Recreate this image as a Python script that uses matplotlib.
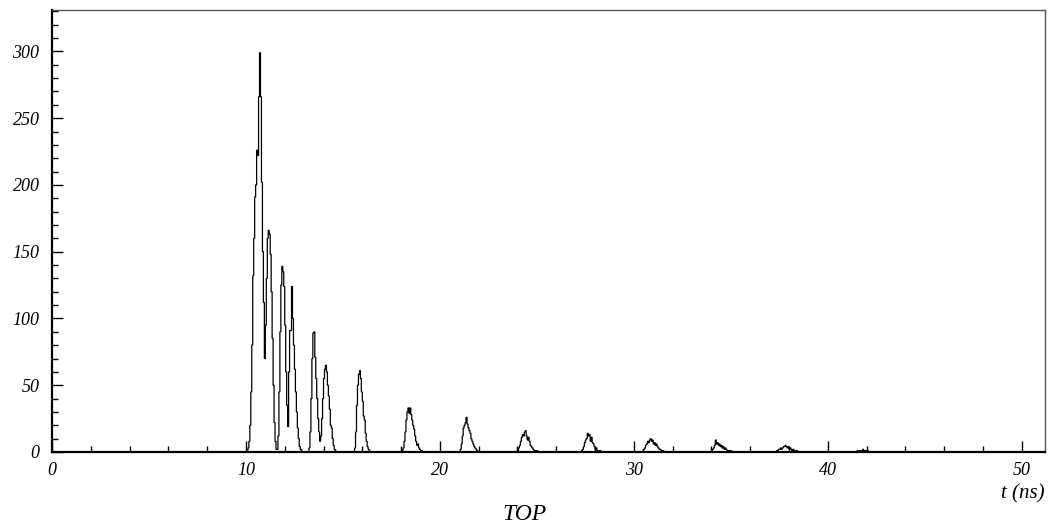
import numpy as np
import matplotlib
matplotlib.use("Agg")
import matplotlib.pyplot as plt
from matplotlib.ticker import MultipleLocator

plt.rcParams['font.family'] = ['Liberation Serif', 'DejaVu Serif']
plt.rcParams['font.style'] = 'italic'

# histogram: 1024 bins of 0.05 ns from 0 to 51.2 ns
bin_width = 0.05
n_bins = 1024

# each peak: (start time in ns, counts of consecutive bins)
peak_a = (10.10, [3, 8, 20, 45, 80, 132, 160, 191, 200, 226, 222, 266, 299, 266, 202,
                  150, 112, 70, 95, 130, 160, 166, 163, 148, 120, 85, 50, 22, 8, 2])
peak_c = (11.60, [2, 12, 45, 90, 125, 139, 135, 124, 95, 60, 35, 19, 60, 91, 91, 124,
                  100, 80, 62, 45, 30, 18, 10, 4, 2, 1])
peak_e = (13.25, [3, 15, 40, 70, 89, 90, 71, 55, 40, 25, 15, 8, 12, 25, 40, 55, 62, 65,
                  60, 50, 42, 32, 20, 18, 10, 5, 2, 1])
peak_g = (15.60, [3, 15, 35, 50, 58, 61, 55, 45, 38, 27, 24, 14, 8, 4, 2, 1])
peak_h = (18.05, [1, 3, 8, 15, 24, 30, 33, 29, 33, 28, 24, 20, 17, 12, 8, 5, 6, 3, 2, 1, 1])
peak_i = (21.05, [2, 6, 12, 18, 20, 22, 26, 21, 18, 16, 14, 10, 8, 6, 4, 3, 2, 1])
peak_j = (24.00, [1, 3, 5, 8, 11, 13, 12, 15, 16, 12, 9, 11, 8, 5, 4, 3, 2, 1, 1, 0, 1])
peak_k = (27.30, [1, 2, 4, 7, 9, 10, 14, 12, 13, 8, 11, 7, 6, 4, 2, 3, 1, 1, 0, 1])
peak_l = (30.45, [1, 2, 3, 5, 6, 8, 7, 9, 10, 8, 9, 6, 7, 5, 6, 4, 3, 2, 2, 1, 0, 1])
peak_m = (34.00, [1, 2, 3, 5, 9, 6, 7, 5, 6, 4, 5, 3, 4, 2, 3, 2, 1, 1, 1, 0, 1])
peak_n = (37.35, [1, 1, 2, 2, 3, 2, 3, 4, 4, 5, 4, 3, 4, 2, 3, 2, 1, 2, 1, 1, 0, 1])
peak_o = (41.50, [1, 0, 1, 1, 0, 1, 2, 1, 1, 0, 1, 1])

peaks = [peak_a, peak_c, peak_e, peak_g, peak_h, peak_i, peak_j,
         peak_k, peak_l, peak_m, peak_n, peak_o]

edges = np.arange(n_bins + 1) * bin_width
counts = np.zeros(n_bins)
for start, vals in peaks:
    i0 = int(round(start / bin_width))
    counts[i0:i0 + len(vals)] = vals

fig = plt.figure(figsize=(10.49, 5.27), dpi=100)
ax = fig.add_axes([52 / 1049, 75 / 527, 993 / 1049, 442 / 527])

ax.stairs(counts, edges, color='black', linewidth=0.9)

ax.set_xlim(0, 51.2)
ax.set_ylim(0, 331)

ax.xaxis.set_major_locator(MultipleLocator(10))
ax.xaxis.set_minor_locator(MultipleLocator(2))
ax.yaxis.set_major_locator(MultipleLocator(50))
ax.yaxis.set_minor_locator(MultipleLocator(10))
ax.tick_params(which='both', direction='in', labelsize=13, width=1)
ax.tick_params(which='major', length=8)
ax.tick_params(which='minor', length=4)
ax.tick_params(axis='y', pad=9)
ax.tick_params(axis='x', pad=7)

for s in ['left', 'bottom']:
    ax.spines[s].set_linewidth(1.6)
for s in ['top', 'right']:
    ax.spines[s].set_linewidth(1.0)
    ax.spines[s].set_color('#555555')

fig.text(1045 / 1049, 1 - 494 / 527, 't (ns)', ha='right', va='center', fontsize=15)
fig.text(525 / 1049, 1 - 515 / 527, 'TOP', ha='center', va='center', fontsize=17)

fig.savefig('out.png', dpi=100)
